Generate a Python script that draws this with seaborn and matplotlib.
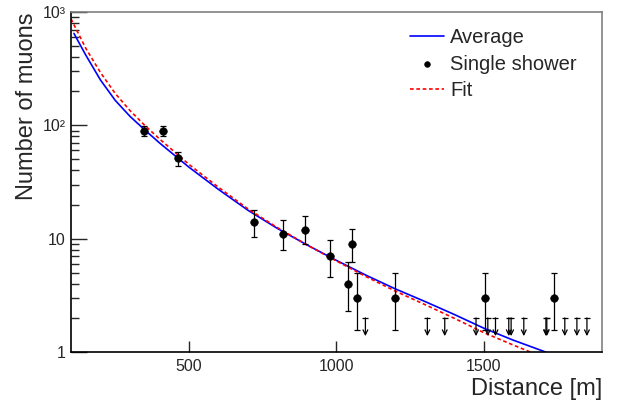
import seaborn as sns
import matplotlib.pyplot as plt
from matplotlib.ticker import FixedLocator, FixedFormatter, NullLocator

# average lateral distribution
avg_dist = [110, 150, 200, 250, 300, 350, 400, 500, 600, 700, 800, 900, 1000,
            1100, 1200, 1300, 1400, 1500, 1600, 1700, 1800]
avg_muons = [647, 417, 251, 166, 120, 91.2, 70, 42.7, 27.2, 17.8, 12.3, 8.81, 6.43,
             4.76, 3.60, 2.79, 2.14, 1.62, 1.27, 1.02, 0.81]

# fit (red dashed curve)
fit_dist = [100, 150, 200, 250, 300, 350, 400, 500, 600, 700, 800, 900, 1000,
            1100, 1200, 1300, 1400, 1500, 1600, 1700]
fit_muons = [871, 479, 292, 191, 135, 100, 75.9, 45.2, 28.4, 18.3, 12.5, 8.81, 6.35,
             4.63, 3.44, 2.62, 1.98, 1.48, 1.15, 0.90]

# single shower measurements
shower_dist = [348, 413, 464, 721, 818, 892, 977, 1038, 1053, 1069, 1197, 1502, 1737]
shower_muons = [90, 90, 51, 14, 11, 12, 7, 4, 9, 3, 3, 3, 3]
err_low = [9.5, 9.5, 7.0, 3.6, 3.1, 3.0, 2.4, 1.7, 2.8, 1.44, 1.44, 1.44, 1.44]
err_high = [9.5, 9.5, 7.3, 3.9, 3.5, 3.7, 2.8, 2.2, 3.1, 2.0, 2.0, 2.0, 2.0]

# upper limits (no muons detected)
limit_dist = [1098, 1308, 1367, 1473, 1513, 1539, 1584, 1592, 1635, 1710, 1713,
              1774, 1815, 1849]
limit_muons = [2.0] * len(limit_dist)

sns.set_style("ticks")
plt.rcParams['font.family'] = ['Liberation Sans', 'DejaVu Sans']

fig, ax = plt.subplots(figsize=(6.19, 4.07), dpi=100)
fig.subplots_adjust(left=0.1147, right=0.9725, bottom=0.1351, top=0.9705)

sns.lineplot(x=avg_dist, y=avg_muons, ax=ax, color="#0000ff", lw=1.2,
             estimator=None, sort=False, label="Average")
ax.errorbar(shower_dist, shower_muons, yerr=[err_low, err_high], fmt="none",
            ecolor="black", elinewidth=0.9, capsize=2, capthick=0.9, zorder=3)
sns.scatterplot(x=shower_dist, y=shower_muons, ax=ax, color="black", s=30,
                edgecolor="black", zorder=4, label="Single shower")
sns.lineplot(x=fit_dist, y=fit_muons, ax=ax, color="#ff0000", lw=1.2,
             estimator=None, sort=False, label="Fit")
ax.get_lines()[-1].set_dashes([2.2, 1.6])

# upper limit arrows
ax.plot(limit_dist, limit_muons, ls="none", marker="_", ms=5, mew=0.9, color="black")
for xd, yd in zip(limit_dist, limit_muons):
    ax.annotate("", xy=(xd, yd * 0.69), xytext=(xd, yd),
                arrowprops=dict(arrowstyle="->,head_length=0.35,head_width=0.17",
                                lw=0.9, color="black", shrinkA=0, shrinkB=0))

ax.set_yscale("log")
ax.set_xlim(100, 1900)
ax.set_ylim(1, 1000)

ax.xaxis.set_major_locator(FixedLocator([500, 1000, 1500]))
ax.xaxis.set_minor_locator(NullLocator())
ax.yaxis.set_major_locator(FixedLocator([1, 10, 100, 1000]))
ax.yaxis.set_major_formatter(FixedFormatter(["1", "10", "10\u00b2", "10\u00b3"]))
ax.tick_params(axis="x", direction="in", length=7.7, width=1, labelsize=11.5, pad=5)
ax.tick_params(axis="y", which="major", direction="in", length=11.5, width=1,
               labelsize=11.5, pad=4)
ax.tick_params(axis="y", which="minor", direction="in", length=5.8, width=1)

for side in ["left", "bottom"]:
    ax.spines[side].set_color("black")
    ax.spines[side].set_linewidth(1.2)
for side in ["top", "right"]:
    ax.spines[side].set_color("#808080")
    ax.spines[side].set_linewidth(1.2)

ax.set_xlabel("Distance [m]", fontsize=17, loc="right")
ax.xaxis.set_label_coords(1.0, -0.075)
ax.set_ylabel("Number of muons", fontsize=17, loc="top")
ax.yaxis.set_label_coords(-0.062, 1.0)

ax.legend(loc="upper left", bbox_to_anchor=(0.605, 1.005), frameon=False,
          fontsize=14.5, handlelength=1.65, handletextpad=0.32, labelspacing=0.36,
          markerscale=0.75)

fig.savefig("out.png", dpi=100)
